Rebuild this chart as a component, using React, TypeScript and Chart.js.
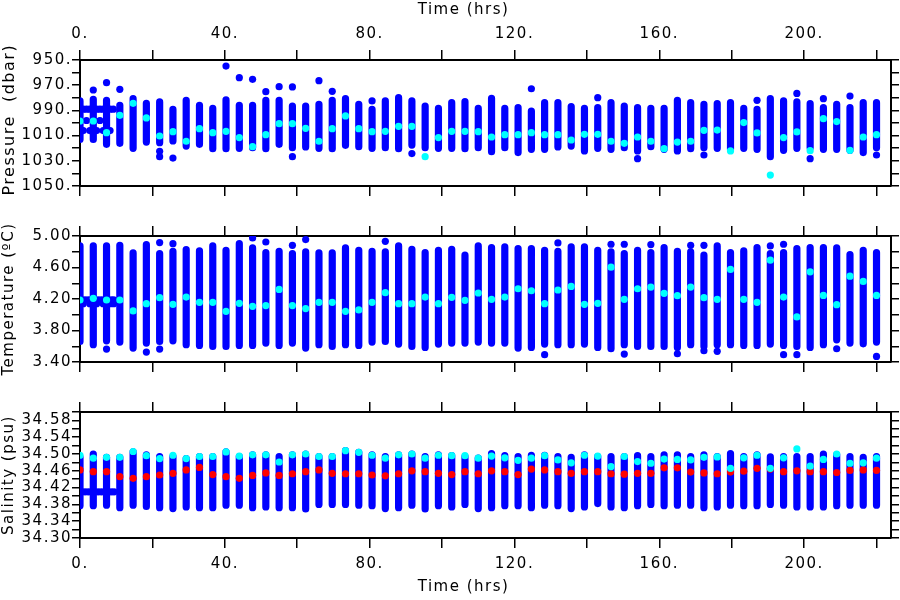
import React, { useEffect, useRef } from "react";
import { Chart, registerables } from "chart.js";

Chart.register(...registerables);

// ---------------- data ----------------
// profile times (hrs)
const TIME = [
  0.0, 3.67, 7.33, 11.0, 14.67, 18.33, 22.0, 25.67, 29.33, 33.0,
  36.67, 40.33, 44.0, 47.67, 51.33, 55.0, 58.67, 62.33, 66.0, 69.67,
  73.33, 77.0, 80.67, 84.33, 88.0, 91.67, 95.33, 99.0, 102.67, 106.33,
  110.0, 113.67, 117.33, 121.0, 124.67, 128.33, 132.0, 135.67, 139.33, 143.0,
  146.67, 150.33, 154.0, 157.67, 161.33, 165.0, 168.67, 172.33, 176.0, 179.67,
  183.33, 187.0, 190.67, 194.33, 198.0, 201.67, 205.33, 209.0, 212.67, 216.33,
  220.0,
];

// Pressure (dbar): shallow end, deep end, cyan marker of each profile
const P_TOP = [
  982.5, 981.2, 982.0, 986.0, 980.7, 984.4, 983.3, 989.2, 982.0, 986.0,
  988.4, 981.7, 986.0, 986.0, 982.0, 982.0, 986.5, 986.5, 985.2, 982.0,
  980.7, 985.2, 989.2, 982.5, 979.9, 982.5, 986.5, 988.4, 983.9, 983.1,
  988.4, 980.4, 988.4, 987.8, 990.5, 983.9, 983.9, 987.0, 988.4, 987.8,
  983.9, 986.5, 987.8, 988.4, 988.4, 982.0, 983.9, 985.2, 984.7, 983.9,
  988.4, 989.2, 980.7, 982.5, 983.3, 984.7, 987.8, 985.2, 987.8, 983.9,
  983.9,
];
const P_BOT = [
  1013.0, 1013.0, 1016.9, 1016.1, 1020.1, 1015.1, 1015.6, 1014.3, 1018.3, 1016.9,
  1020.4, 1020.4, 1020.1, 1019.6, 1020.4, 1016.9, 1019.6, 1019.0, 1020.1, 1020.4,
  1017.7, 1018.8, 1020.1, 1019.6, 1020.4, 1017.5, 1019.6, 1020.1, 1020.1, 1020.4,
  1019.6, 1022.8, 1019.6, 1023.5, 1020.9, 1020.9, 1019.0, 1018.3, 1022.2, 1020.1,
  1020.9, 1019.6, 1022.2, 1018.8, 1020.9, 1022.2, 1020.4, 1019.6, 1020.1, 1020.9,
  1020.1, 1020.9, 1026.7, 1021.7, 1020.1, 1019.6, 1020.9, 1020.9, 1021.7, 1023.5,
  1019.6,
];
const P_CYAN = [
  998.4, 998.4, 1007.7, 993.9, 984.4, 996.0, 1010.3, 1006.9, 1014.5, 1004.5,
  1007.7, 1006.6, 1011.6, 1018.8, 1009.3, 1000.5, 1000.5, 1004.2, 1014.5, 1004.5,
  994.4, 1004.5, 1006.9, 1006.6, 1002.6, 1002.6, 1026.7, 1011.6, 1006.6, 1006.6,
  1006.9, 1011.1, 1009.3, 1009.3, 1007.7, 1009.3, 1009.3, 1013.5, 1009.0, 1009.0,
  1014.5, 1016.1, 1011.1, 1014.5, 1020.4, 1015.1, 1014.5, 1005.8, 1005.6, 1022.2,
  999.7, 1007.9, 1041.3, 1011.6, 1007.1, 1022.0, 996.6, 998.9, 1021.7, 1011.1,
  1009.3,
];
// isolated pressure samples (time, value)
const P_OUT_T = [
  3.67, 7.33, 11.0, 22.0, 22.0, 25.67, 40.33, 44.0, 47.67, 51.33,
  55.0, 58.67, 58.67, 66.0, 69.67, 80.67, 91.67, 124.67, 143.0, 154.0,
  172.33, 187.0, 198.0, 201.67, 205.33, 212.67, 220.0,
];
const P_OUT_V = [
  973.8, 968.0, 973.3, 1022.5, 1026.7, 1027.8, 954.8, 964.0, 965.3, 975.1,
  971.2, 971.4, 1026.7, 966.4, 974.9, 982.5, 1024.3, 972.8, 979.9, 1028.3,
  1025.4, 982.0, 976.5, 1028.3, 980.7, 978.6, 1025.4,
];

// Temperature (degC)
const T_TOP = [
  4.874, 4.874, 4.874, 4.882, 4.785, 4.891, 4.777, 4.806, 4.827, 4.811,
  4.874, 4.819, 4.903, 4.848, 4.789, 4.806, 4.777, 4.798, 4.785, 4.785,
  4.848, 4.819, 4.806, 4.798, 4.874, 4.832, 4.789, 4.819, 4.832, 4.756,
  4.874, 4.853, 4.861, 4.840, 4.840, 4.819, 4.806, 4.861, 4.861, 4.819,
  4.798, 4.777, 4.819, 4.789, 4.853, 4.806, 4.798, 4.756, 4.874, 4.789,
  4.811, 4.853, 4.777, 4.789, 4.840, 4.853, 4.853, 4.848, 4.764, 4.819,
  4.789,
];
const T_BOT = [
  3.661, 3.619, 3.669, 3.653, 3.577, 3.640, 3.661, 3.669, 3.619, 3.610,
  3.598, 3.598, 3.610, 3.610, 3.640, 3.610, 3.640, 3.577, 3.619, 3.598,
  3.619, 3.610, 3.653, 3.661, 3.627, 3.598, 3.585, 3.627, 3.640, 3.640,
  3.653, 3.640, 3.640, 3.577, 3.585, 3.627, 3.619, 3.619, 3.627, 3.585,
  3.568, 3.619, 3.598, 3.598, 3.598, 3.585, 3.619, 3.598, 3.619, 3.619,
  3.610, 3.610, 3.627, 3.610, 3.598, 3.585, 3.619, 3.682, 3.640, 3.631,
  3.653,
];
const T_CYAN = [
  4.187, 4.208, 4.187, 4.187, 4.048, 4.141, 4.217, 4.133, 4.225, 4.158,
  4.158, 4.044, 4.145, 4.107, 4.116, 4.322, 4.116, 4.078, 4.158, 4.158,
  4.044, 4.061, 4.158, 4.280, 4.141, 4.141, 4.225, 4.141, 4.221, 4.183,
  4.276, 4.196, 4.225, 4.330, 4.305, 4.141, 4.314, 4.360, 4.133, 4.145,
  4.604, 4.196, 4.330, 4.352, 4.272, 4.242, 4.352, 4.217, 4.196, 4.575,
  4.196, 4.158, 4.693, 4.225, 3.973, 4.545, 4.246, 4.128, 4.490, 4.423,
  4.246,
];
const T_OUT_T = [
  7.33, 18.33, 22.0, 22.0, 25.67, 47.67, 51.33, 58.67, 62.33, 84.33,
  128.33, 132.0, 146.67, 150.33, 150.33, 157.67, 165.0, 168.67, 172.33, 172.33,
  176.0, 190.67, 194.33, 194.33, 198.0, 209.0, 220.0,
];
const T_OUT_V = [
  3.564, 3.526, 4.916, 3.564, 4.903, 4.975, 4.924, 4.882, 4.954, 4.933,
  3.493, 4.912, 4.895, 4.895, 3.501, 4.891, 3.505, 4.882, 4.882, 3.543,
  3.535, 4.874, 4.895, 3.493, 3.493, 3.568, 3.471,
];

// Salinity (psu)
const S_TOP = [
  34.492, 34.500, 34.492, 34.492, 34.505, 34.498, 34.494, 34.494, 34.489, 34.494,
  34.494, 34.505, 34.494, 34.498, 34.498, 34.494, 34.498, 34.500, 34.494, 34.494,
  34.508, 34.504, 34.498, 34.494, 34.498, 34.500, 34.494, 34.498, 34.496, 34.494,
  34.490, 34.501, 34.496, 34.494, 34.497, 34.497, 34.494, 34.492, 34.498, 34.494,
  34.494, 34.494, 34.496, 34.494, 34.498, 34.498, 34.494, 34.498, 34.494, 34.501,
  34.494, 34.498, 34.493, 34.494, 34.494, 34.494, 34.500, 34.498, 34.494, 34.492,
  34.494,
];
const S_BOT = [
  34.377, 34.377, 34.378, 34.372, 34.378, 34.375, 34.372, 34.370, 34.374, 34.372,
  34.372, 34.378, 34.378, 34.372, 34.374, 34.372, 34.372, 34.369, 34.380, 34.380,
  34.380, 34.378, 34.377, 34.370, 34.372, 34.378, 34.369, 34.377, 34.374, 34.380,
  34.370, 34.372, 34.377, 34.377, 34.372, 34.378, 34.377, 34.370, 34.374, 34.382,
  34.374, 34.372, 34.377, 34.380, 34.377, 34.378, 34.378, 34.372, 34.374, 34.378,
  34.377, 34.377, 34.380, 34.378, 34.374, 34.374, 34.374, 34.377, 34.378, 34.378,
  34.378,
];
const S_CYAN = [
  34.497, 34.490, 34.492, 34.492, 34.506, 34.496, 34.489, 34.497, 34.489, 34.494,
  34.494, 34.505, 34.495, 34.498, 34.498, 34.481, 34.498, 34.500, 34.494, 34.494,
  34.508, 34.504, 34.497, 34.490, 34.498, 34.500, 34.490, 34.497, 34.496, 34.496,
  34.490, 34.495, 34.491, 34.485, 34.490, 34.496, 34.486, 34.479, 34.497, 34.495,
  34.470, 34.494, 34.482, 34.478, 34.488, 34.487, 34.486, 34.492, 34.493, 34.466,
  34.491, 34.497, 34.466, 34.491, 34.512, 34.471, 34.487, 34.500, 34.478, 34.479,
  34.490,
];
const S_RED = [
  34.462, 34.458, 34.458, 34.446, 34.442, 34.446, 34.450, 34.454, 34.462, 34.468,
  34.451, 34.446, 34.442, 34.449, 34.455, 34.449, 34.453, 34.458, 34.462, 34.454,
  34.453, 34.453, 34.450, 34.448, 34.453, 34.460, 34.458, 34.454, 34.451, 34.458,
  34.453, 34.460, 34.458, 34.451, 34.464, 34.462, 34.458, 34.454, 34.458, 34.458,
  34.453, 34.452, 34.454, 34.454, 34.467, 34.467, 34.457, 34.455, 34.453, 34.457,
  34.459, 34.466, 34.464, 34.458, 34.460, 34.458, 34.458, 34.456, 34.461, 34.462,
  34.461,
];

// parked (drift) samples during the first hours
const PARK_T = [
  0.9, 1.8, 2.7, 4.6, 5.5, 6.4, 8.3, 9.2,
  0.9, 2.7, 4.6, 6.4, 8.3,
  1.8, 5.5,
];
const PARK_P = [
  989.0, 989.0, 989.0, 989.0, 989.0, 989.0, 989.0, 989.0,
  1006.0, 1006.0, 1006.0, 1006.0, 1006.0,
  998.0, 998.0,
];
const PARK_TT = [0.5, 1.4, 2.3, 3.2, 4.1, 5.0, 5.9, 6.8, 7.7, 8.6, 9.3, 0.9, 2.7, 4.6, 6.4, 8.3, 9.3];
const PARK_TV = [4.19, 4.19, 4.19, 4.19, 4.19, 4.19, 4.19, 4.19, 4.19, 4.19, 4.19, 4.14, 4.14, 4.14, 4.14, 4.14, 4.14];
const PARK_ST = [0.5, 1.4, 2.3, 3.2, 4.1, 5.0, 5.9, 6.8, 7.7, 8.6, 9.4];
const PARK_SV = [34.41, 34.41, 34.41, 34.41, 34.41, 34.41, 34.41, 34.41, 34.41, 34.41, 34.41];

// axes: tick positions and labelled ticks
const X_TICKS = [0, 20, 40, 60, 80, 100, 120, 140, 160, 180, 200, 220];
const X_LABELS = [0, 40, 80, 120, 160, 200];
const P_TICKS = [950, 960, 970, 980, 990, 1000, 1010, 1020, 1030, 1040, 1050];
const P_LABELS = [950, 970, 990, 1010, 1030, 1050];
const T_TICKS = [3.4, 3.6, 3.8, 4.0, 4.2, 4.4, 4.6, 4.8, 5.0];
const T_LABELS = [3.4, 3.8, 4.2, 4.6, 5.0];
const S_TICKS = [
  34.30, 34.32, 34.34, 34.36, 34.38, 34.40, 34.42, 34.44,
  34.46, 34.48, 34.50, 34.52, 34.54, 34.56, 34.58, 34.60,
];
const S_LABELS = [34.30, 34.34, 34.38, 34.42, 34.46, 34.50, 34.54, 34.58];

// ---------------- styling ----------------
const FONT = "'DejaVu Sans', sans-serif";
const BLUE = "#0000ff";
const CYAN = "#00ffff";
const RED = "#ff0000";
const INK = "#000000";
const DOT = 3.6;
const NB = "\u00a0";

const has = (arr: number[], v: number) => arr.some((a) => Math.abs(a - v) < 1e-6);

function segments(top: number[], bot: number[]) {
  const out: any[] = [];
  TIME.forEach((t, i) => {
    out.push({ x: t, y: top[i] }, { x: t, y: bot[i] }, { x: t, y: null });
  });
  return out;
}
const pairs = (ts: number[], vs: number[]) => ts.map((t, i) => ({ x: t, y: vs[i] }));
const atTimes = (vs: number[]) => TIME.map((t, i) => ({ x: t, y: vs[i] }));

const barSet = (data: any[]) => ({
  data,
  showLine: true,
  borderColor: BLUE,
  borderWidth: DOT * 2,
  borderCapStyle: "round",
  borderJoinStyle: "round",
  pointRadius: 0,
  spanGaps: false,
  tension: 0,
  clip: 0,
  order: 5,
});
const dotSet = (data: any[], color: string, order: number, r = DOT) => ({
  data,
  showLine: false,
  pointRadius: r,
  pointBackgroundColor: color,
  pointBorderWidth: 0,
  pointBorderColor: color,
  clip: 0,
  order,
});

// letter spacing: titles (drawn before the datasets) and tick labels (after)
const spacingPlugin = {
  id: "spacing",
  beforeDraw(chart: any) {
    chart.ctx.letterSpacing = "1.5px";
  },
  beforeDatasetsDraw(chart: any) {
    chart.ctx.letterSpacing = "1.5px";
  },
};

function fixedTicks(values: number[]) {
  return (scale: any) => {
    scale.ticks = values.map((v) => ({ value: v }));
  };
}

function panelConfig(p: any) {
  const gridCommon = {
    drawOnChartArea: false,
    drawTicks: true,
    color: INK,
    lineWidth: 1.5,
    z: -1,
  };
  const border = { display: true, color: INK, width: 2, z: 0 };
  const tickFont = { family: FONT, size: 15, lineHeight: 1.2 };
  const xTitleFont = { family: FONT, size: 15, lineHeight: 1.2 };
  const yTitleFont = { family: FONT, size: p.titleSize, lineHeight: 1.2 };
  const xLabel = (v: number) => (has(X_LABELS, v) ? `${Math.round(v)}.` : "");
  const xScale = (position: string, showLabels: boolean, h: number, titlePad: any) => ({
    type: "linear",
    position,
    min: 0,
    max: 224,
    afterBuildTicks: fixedTicks(X_TICKS),
    afterFit: (s: any) => {
      s.height = h;
    },
    ticks: {
      display: showLabels,
      autoSkip: false,
      maxRotation: 0,
      minRotation: 0,
      padding: 7,
      color: INK,
      font: tickFont,
      z: 1,
      callback: xLabel,
    },
    grid: { ...gridCommon, tickLength: 10 },
    border,
    title: {
      display: showLabels,
      text: "Time (hrs)" + NB.repeat(7),
      color: INK,
      font: xTitleFont,
      padding: titlePad,
    },
  });
  const yScale = (position: string, showLabels: boolean, w: number) => ({
    type: "linear",
    position,
    min: p.yMin,
    max: p.yMax,
    reverse: !!p.reverse,
    afterBuildTicks: fixedTicks(p.yTicks),
    afterFit: (s: any) => {
      s.width = w;
    },
    ticks: {
      display: showLabels,
      autoSkip: false,
      padding: 0,
      color: INK,
      font: tickFont,
      z: 1,
      callback: (v: number) => (has(p.yLabels, v) ? p.fmt(v) : ""),
    },
    grid: { ...gridCommon, tickLength: 8 },
    border,
    title: {
      display: showLabels,
      text: p.yTitle,
      color: INK,
      font: yTitleFont,
      padding: { top: 0, bottom: 0 },
    },
  });
  return {
    type: "line",
    data: { datasets: p.datasets },
    plugins: [spacingPlugin],
    options: {
      animation: false,
      responsive: false,
      maintainAspectRatio: false,
      events: [],
      layout: { padding: 0 },
      plugins: { legend: { display: false }, tooltip: { enabled: false } },
      scales: {
        x: xScale("top", p.topLabels, p.topH, { top: 1, bottom: 0 }),
        x2: xScale("bottom", p.bottomLabels, p.bottomH, { top: 0, bottom: 4 }),
        y: yScale("left", true, 80),
        y2: yScale("right", false, 9),
      },
    },
  };
}

// each panel is a full-page transparent canvas; the axis boxes place its plot area
const PANELS = [
  () =>
    panelConfig({
      yMin: 950,
      yMax: 1050,
      reverse: true,
      yTicks: P_TICKS,
      yLabels: P_LABELS,
      fmt: (v: number) => `${Math.round(v)}.`,
      yTitle: NB + "Pressure  (dbar)",
      titleSize: 16,
      topLabels: true,
      bottomLabels: false,
      topH: 60,
      bottomH: 414,
      datasets: [
        dotSet(atTimes(P_CYAN), CYAN, 0),
        dotSet(pairs(P_OUT_T, P_OUT_V), BLUE, 2),
        dotSet(pairs(PARK_T, PARK_P), BLUE, 3),
        barSet(segments(P_TOP, P_BOT)),
      ],
    }),
  () =>
    panelConfig({
      yMin: 3.4,
      yMax: 5.0,
      yTicks: T_TICKS,
      yLabels: T_LABELS,
      fmt: (v: number) => v.toFixed(2),
      yTitle: "Temperature (\u00baC)",
      titleSize: 15,
      topLabels: false,
      bottomLabels: false,
      topH: 236,
      bottomH: 238,
      datasets: [
        dotSet(atTimes(T_CYAN), CYAN, 0),
        dotSet(pairs(T_OUT_T, T_OUT_V), BLUE, 2),
        dotSet(pairs(PARK_TT, PARK_TV), BLUE, 3),
        barSet(segments(T_TOP, T_BOT)),
      ],
    }),
  () =>
    panelConfig({
      yMin: 34.3,
      yMax: 34.6,
      yTicks: S_TICKS,
      yLabels: S_LABELS,
      fmt: (v: number) => v.toFixed(2),
      yTitle: "Salinity (psu)",
      titleSize: 15,
      topLabels: false,
      bottomLabels: true,
      topH: 412,
      bottomH: 62,
      datasets: [
        dotSet(atTimes(S_CYAN), CYAN, 0),
        dotSet(atTimes(S_RED), RED, 1),
        dotSet(pairs(PARK_ST, PARK_SV), BLUE, 3),
        barSet(segments(S_TOP, S_BOT)),
      ],
    }),
];

function Panel({ cfg }: any) {
  const ref = useRef<HTMLCanvasElement | null>(null);
  useEffect(() => {
    if (!ref.current) return;
    const chart = new Chart(ref.current, cfg() as any);
    return () => chart.destroy();
  }, []);
  return (
    <canvas
      ref={ref}
      width={900}
      height={600}
      style={{ position: "absolute", left: 0, top: 0, width: 900, height: 600, display: "block" }}
    />
  );
}

export default function App() {
  return (
    <div
      style={{
        position: "fixed",
        left: 0,
        top: 0,
        width: 900,
        height: 600,
        background: "#ffffff",
        overflow: "hidden",
      }}
    >
      {PANELS.map((cfg, i) => (
        <Panel key={i} cfg={cfg} />
      ))}
    </div>
  );
}
